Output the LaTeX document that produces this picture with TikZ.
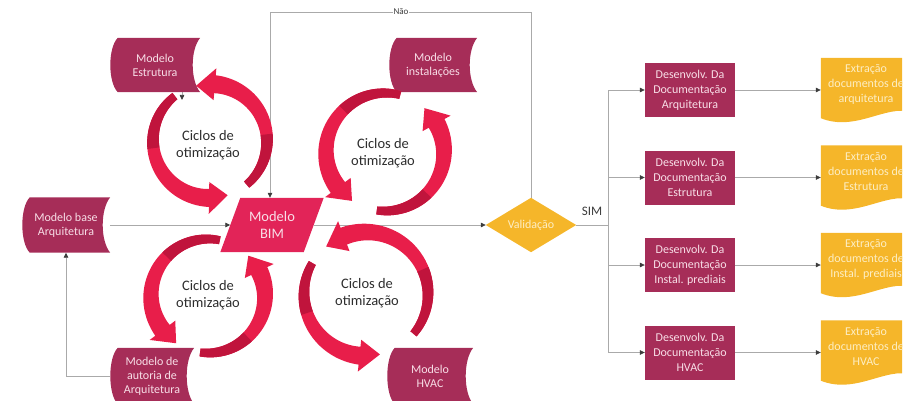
\documentclass[tikz,border=0pt]{standalone}
\usepackage{fontspec}
\setmainfont{Carlito}
\usetikzlibrary{arrows.meta,calc}
\definecolor{boxc}{RGB}{166,45,88}
\definecolor{boxtxt}{RGB}{248,222,231}
\definecolor{bimc}{RGB}{226,36,88}
\definecolor{yelc}{RGB}{245,182,42}
\definecolor{yeltxt}{RGB}{253,238,196}
\definecolor{linec}{RGB}{170,170,170}
\definecolor{tipc}{RGB}{60,60,60}
\definecolor{cycbright}{RGB}{232,30,74}
\definecolor{cycdark}{RGB}{192,20,60}
\definecolor{cyctxt}{RGB}{45,45,45}
\pgfdeclarelayer{bg}
\pgfsetlayers{bg,main}
\tikzset{
  gl/.style={draw=linec, line width=0.7pt},
  garrow/.style={gl, -{Triangle[length=5pt,width=4.5pt,color=tipc]}},
  mtext/.style={text=boxtxt, font=\fontsize{12}{14}\selectfont, align=center, inner sep=0pt},
  dtext/.style={text=boxtxt, font=\fontsize{12}{15}\selectfont, align=center, inner sep=0pt,
                fill=boxc, minimum width=90pt, minimum height=54pt},
  etext/.style={text=yeltxt, font=\fontsize{12}{15}\selectfont, align=center, inner sep=0pt,
                minimum width=90pt, minimum height=52pt},
  ctext/.style={text=cyctxt, font=\fontsize{14.5}{17}\selectfont, align=center, inner sep=0pt},
  lbl/.style={text=tipc, inner sep=1pt}
}
% stored-data shape around a node
\newcommand\sdshape[2]{%
  \fill[#2] ([xshift=8pt]#1.north west) -- (#1.north east)
    .. controls ([xshift=-10pt,yshift=-12pt]#1.north east) and ([xshift=-10pt,yshift=12pt]#1.south east) .. (#1.south east)
    -- ([xshift=8pt]#1.south west)
    .. controls ([xshift=-2pt,yshift=10pt]#1.south west) and ([xshift=-2pt,yshift=-10pt]#1.north west) .. ([xshift=8pt]#1.north west)
    -- cycle;}
% document shape (wavy bottom) around a node
\newcommand\docshape[1]{%
  \fill[yelc] (#1.north west) -- (#1.north east) -- ([yshift=-2pt]#1.south east)
    .. controls ([xshift=-25pt,yshift=6pt]#1.south east) and ([xshift=35pt,yshift=-22pt]#1.south west) .. ([yshift=-8pt]#1.south west)
    -- cycle;}
% curved block arrow: cx, cy, r, start angle, tip angle (counter-clockwise)
\newcommand\cycarrow[5]{%
  \pgfmathsetmacro\cA{#4}%
  \pgfmathsetmacro\cB{#5-19}%
  \pgfmathsetmacro\cM{\cA+0.42*(\cB-(\cA))}%
  \fill[cycbright]
    plot[domain=\cA:\cB,samples=40,variable=\t]
      ({#1+(#3+4+5*(\t-(\cA))/(\cB-(\cA)))*cos(\t)},{#2-(#3+4+5*(\t-(\cA))/(\cB-(\cA)))*sin(\t)})
    -- ({#1+(#3+16)*cos(\cB)},{#2-(#3+16)*sin(\cB)})
    -- ({#1+#3*cos(#5)},{#2-#3*sin(#5)})
    -- ({#1+(#3-16)*cos(\cB)},{#2-(#3-16)*sin(\cB)})
    -- plot[domain=\cB:\cA,samples=40,variable=\t]
      ({#1+(#3-4-5*(\t-(\cA))/(\cB-(\cA)))*cos(\t)},{#2-(#3-4-5*(\t-(\cA))/(\cB-(\cA)))*sin(\t)})
    -- cycle;
  \fill[cycdark]
    plot[domain=\cA:\cM,samples=25,variable=\t]
      ({#1+(#3+4+5*(\t-(\cA))/(\cB-(\cA)))*cos(\t)},{#2-(#3+4+5*(\t-(\cA))/(\cB-(\cA)))*sin(\t)})
    -- plot[domain=\cM:\cA,samples=25,variable=\t]
      ({#1+(#3-4-5*(\t-(\cA))/(\cB-(\cA)))*cos(\t)},{#2-(#3-4-5*(\t-(\cA))/(\cB-(\cA)))*sin(\t)})
    -- cycle;}
\begin{document}
\begin{tikzpicture}[x=1pt,y=-1pt]
\useasboundingbox (0,0) rectangle (912,401);
% ---------- nodes ----------
\node[mtext, minimum width=90pt, minimum height=54pt] (ms) at (155,65) {Modelo\\Estrutura};
\node[mtext, minimum width=88pt, minimum height=54pt] (mi) at (433,65) {Modelo\\instalações};
\node[mtext, minimum width=88pt, minimum height=55pt] (mb) at (66,225) {Modelo base\\Arquitetura};
\node[mtext, minimum width=84pt, minimum height=56pt] (ma) at (152,376) {Modelo de\\autoria de\\Arquitetura};
\node[mtext, minimum width=86pt, minimum height=56pt] (mh) at (430,376) {Modelo\\HVAC};
\node[mtext, font=\fontsize{14.5}{17}\selectfont, minimum width=83pt, minimum height=54pt] (bim) at (272,225) {Modelo\\BIM};
\node[mtext, text=yeltxt, font=\fontsize{12}{15}\selectfont, minimum width=90pt, minimum height=54pt] (valid) at (531,225) {Validação};
\node[dtext] (d1) at (690,90) {Desenvolv. Da\\Documentação\\Arquitetura};
\node[dtext] (d2) at (690,177.5) {Desenvolv. Da\\Documentação\\Estrutura};
\node[dtext] (d3) at (690,265) {Desenvolv. Da\\Documentação\\Instal. prediais};
\node[dtext] (d4) at (690,352.5) {Desenvolv. Da\\Documentação\\HVAC};
\begin{scope}
  \clip (0,0) rectangle (902,401);
  \node[etext] (e1) at (866,84) {Extração\\documentos de\\arquitetura};
  \node[etext] (e2) at (866,171.5) {Extração\\documentos de\\Estrutura};
  \node[etext] (e3) at (866,259) {Extração\\documentos de\\Instal. prediais};
  \node[etext] (e4) at (866,346.5) {Extração\\documentos de\\HVAC};
\end{scope}
\coordinate (ntop) at (270,12);
\coordinate (br) at (608,225);
\coordinate (mstip) at (182,100);
% ---------- connectors and shapes (background) ----------
\begin{pgfonlayer}{bg}
  \draw[garrow] (mb) -- (bim);
  \draw[garrow] (bim) -- (valid);
  \draw[garrow] (valid.north) |- (ntop) -- (ntop |- bim.north);
  \draw[gl] (valid.east) -- (br);
  \foreach \d in {d1,d2,d3,d4} \draw[garrow] (br) |- (\d.west);
  \draw[garrow] (d1.east) -- (d1.east -| e1.west);
  \draw[garrow] (d2.east) -- (d2.east -| e2.west);
  \draw[garrow] (d3.east) -- (d3.east -| e3.west);
  \draw[garrow] (d4.east) -- (d4.east -| e4.west);
  \draw[garrow] (ma.west) -| (mb.south);
  \draw[garrow] (ms.south -| mstip) -- (mstip);
  \sdshape{ms}{boxc}
  \sdshape{mi}{boxc}
  \sdshape{mb}{boxc}
  \sdshape{ma}{boxc}
  \sdshape{mh}{boxc}
  \fill[bimc] ([xshift=10pt]bim.north west) -- ([xshift=10pt]bim.north east)
     -- ([xshift=-10pt]bim.south east) -- ([xshift=-10pt]bim.south west) -- cycle;
  \fill[yelc] (valid.north) -- (valid.east) -- (valid.south) -- (valid.west) -- cycle;
  \begin{scope}
    \clip (0,0) rectangle (902,401);
    \docshape{e1}\docshape{e2}\docshape{e3}\docshape{e4}
  \end{scope}
\end{pgfonlayer}
% ---------- labels ----------
\node[lbl, fill=white, font=\fontsize{9}{10}\selectfont] (nao) at (401,12) {Não};
\node[lbl, font=\fontsize{13}{15}\selectfont] (sim) at (592,211) {SIM};
% ---------- optimisation cycles ----------
\cycarrow{210}{141}{57}{-50}{104}
\cycarrow{210}{141}{57}{128}{288}
\cycarrow{385}{152}{59}{75}{236}
\cycarrow{385}{152}{59}{262}{408}
\cycarrow{208}{296}{57}{78}{236}
\cycarrow{208}{296}{57}{262}{405}
\cycarrow{366}{294}{62}{-40}{130}
\cycarrow{366}{294}{62}{150}{283}
\node[ctext] (c1) at (208,145) {Ciclos de\\otimização};
\node[ctext] (c2) at (383,153) {Ciclos de\\otimização};
\node[ctext] (c3) at (208,295) {Ciclos de\\otimização};
\node[ctext] (c4) at (367,293) {Ciclos de\\otimização};
\end{tikzpicture}
\end{document}
